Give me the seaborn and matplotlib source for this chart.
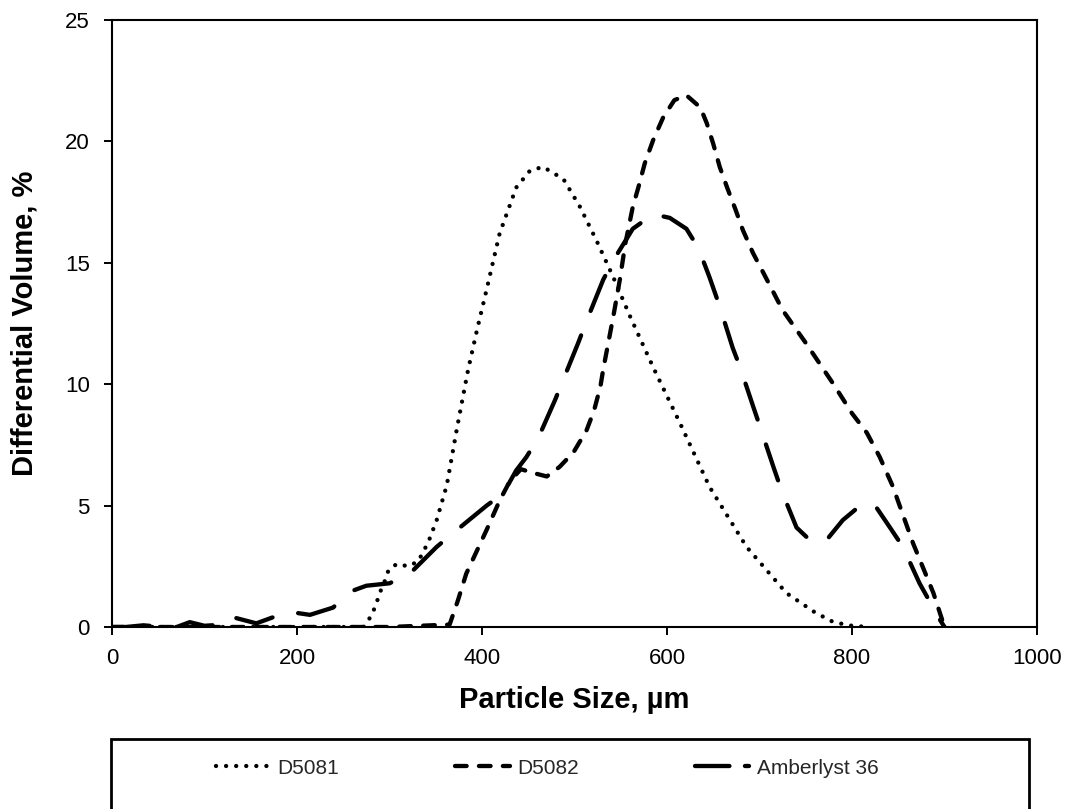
import matplotlib
matplotlib.use("Agg")
import matplotlib.pyplot as plt
from matplotlib.patches import Rectangle
from matplotlib.lines import Line2D
import seaborn as sns
import pandas as pd

# ---- data ----
d5081_x = [0, 100, 200, 272, 281, 286, 290, 295, 299, 308, 320, 331, 342, 351, 362, 373, 385, 395,
           405, 419, 437, 452, 466, 488, 506, 524, 542, 560, 585, 614, 646, 686, 729, 760, 780, 800, 818]
d5081_y = [0, 0, 0, 0, 0.5, 1.0, 1.45, 1.9, 2.35, 2.6, 2.5, 2.7, 3.5, 4.4, 5.85, 8.2, 10.6, 12.3,
           13.9, 16.2, 18.1, 18.8, 18.95, 18.45, 17.3, 15.9, 14.4, 12.8, 10.7, 8.4, 5.77, 3.3, 1.4, 0.6, 0.2, 0.05, 0]

d5082_x = [0, 100, 200, 300, 365, 374, 383, 394, 405, 419, 430, 442, 455, 470, 484, 499, 513, 521, 528, 531,
           536, 542, 549, 555, 563, 569, 576, 585, 596, 608, 621, 636, 643, 650, 657, 665, 674, 682, 693, 704,
           725, 750, 780, 800, 816, 830, 844, 866, 888, 900]
d5082_y = [0, 0, 0, 0, 0.1, 1.1, 2.2, 3.1, 4.0, 5.2, 6.0, 6.5, 6.35, 6.2, 6.6, 7.2, 8.1, 8.9, 9.9, 10.6,
           11.6, 12.8, 14.3, 15.8, 17.3, 18.1, 19.1, 20.05, 21.0, 21.7, 21.9, 21.4, 20.75, 19.9, 18.95, 18.1, 17.2, 16.35, 15.4, 14.6,
           13.05, 11.7, 10.0, 8.8, 8.0, 7.0, 5.8, 3.45, 1.4, 0]

amb_x = [0, 15, 34, 55, 70, 84, 100, 120, 131, 156, 174, 196, 214, 239, 257, 275, 300, 322, 351, 373,
         405, 423, 437, 448, 461, 479, 488, 504, 513, 531, 542, 563, 585, 603, 621, 634, 646, 657, 671, 679,
         693, 701, 715, 724, 740, 758, 775, 790, 812, 825, 841, 855, 873, 895, 900]
amb_y = [0, 0, 0.07, 0, 0, 0.2, 0.05, 0.1, 0.4, 0.15, 0.4, 0.6, 0.5, 0.8, 1.45, 1.7, 1.8, 2.2, 3.3, 4.0,
         5.0, 5.5, 6.45, 7.0, 7.8, 9.35, 10.2, 11.7, 12.6, 14.3, 15.1, 16.4, 17.0, 16.85, 16.4, 15.6, 14.4, 13.2, 11.5, 10.7,
         9.1, 8.2, 6.6, 5.6, 4.1, 3.45, 3.7, 4.4, 5.1, 5.0, 4.1, 3.3, 1.8, 0.3, 0]

series_names = ["D5081", "D5082", "Amberlyst 36"]
x_ticks = [0, 200, 400, 600, 800, 1000]
y_ticks = [0, 5, 10, 15, 20, 25]

# ---- styling ----
sns.set_theme(style="white")
plt.rcParams['font.family'] = ['Liberation Sans', 'DejaVu Sans']

W, H = 1071, 809
fig = plt.figure(figsize=(W / 100, H / 100), dpi=100)
ax = fig.add_axes([112 / W, (H - 627) / H, 925 / W, 607 / H])

lw = 3.1
styles = [
    dict(linestyle=(0, (0.01, 2.33)), dash_capstyle="round"),
    dict(linestyle=(0, (2.7, 2.86)), dash_capstyle="round"),
    dict(linestyle=(0, (8.8, 6.1)), dash_capstyle="round"),
]

datasets = [(d5081_x, d5081_y), (d5082_x, d5082_y), (amb_x, amb_y)]
for (xs, ys), name, st in zip(datasets, series_names, styles):
    df = pd.DataFrame({"x": xs, "y": ys})
    sns.lineplot(data=df, x="x", y="y", ax=ax, color="black", linewidth=lw,
                 errorbar=None, sort=False, **st)

ax.set_xlim(0, 1000)
ax.set_ylim(0, 25)
ax.set_xticks(x_ticks)
ax.set_yticks(y_ticks)
ax.tick_params(axis="both", direction="out", length=6, width=1.4, color="black",
               labelsize=16, labelcolor="black", bottom=True, left=True)
ax.tick_params(axis="x", pad=9)
ax.tick_params(axis="y", pad=10)
for sp in ax.spines.values():
    sp.set_visible(True)
    sp.set_color("black")
    sp.set_linewidth(1.5)
ax.grid(False)

ax.set_xlabel("Particle Size, µm", fontsize=21, fontweight="bold", color="black")
ax.set_ylabel("Differential Volume, %", fontsize=21, fontweight="bold", color="black")
ax.xaxis.set_label_coords(0.5, (627 - 686) / 607)
ax.yaxis.set_label_coords((39 - 112) / 925, 0.5)

# legend box below the plot
handles = [
    Line2D([], [], color="black", linewidth=lw, **styles[0]),
    Line2D([], [], color="black", linewidth=lw, **styles[1]),
    Line2D([], [], color="black", linewidth=lw, linestyle=(0, (8.0, 3.6)), dash_capstyle="round"),
]
rect = Rectangle((111 / W, -0.05), (1029 - 111) / W, 0.05 + (H - 739) / H,
                 transform=fig.transFigure, fill=False, edgecolor="black", linewidth=2.0,
                 clip_on=False)
fig.patches.append(rect)
fig.legend(handles, series_names, loc="center", bbox_to_anchor=(547 / W, (H - 768) / H),
           ncol=3, frameon=False, fontsize=15, handlelength=2.6, handletextpad=0.35,
           columnspacing=5.6)

fig.savefig("out.png", dpi=100)
